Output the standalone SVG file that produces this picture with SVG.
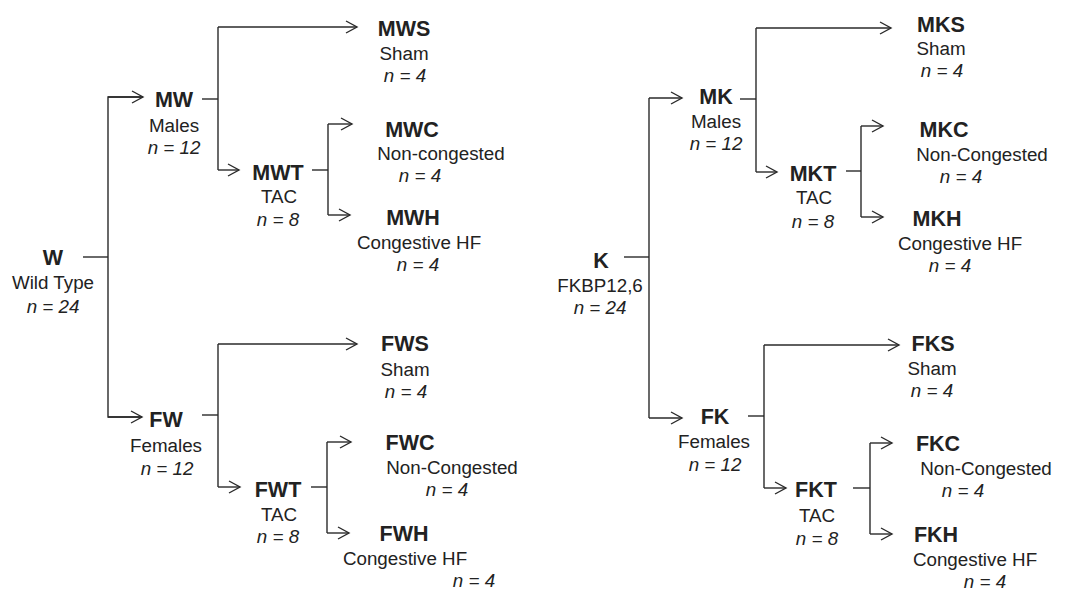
<svg xmlns="http://www.w3.org/2000/svg" width="1070" height="590" viewBox="0 0 1070 590">
<defs>
<marker id="ah" markerUnits="userSpaceOnUse" markerWidth="14" markerHeight="14" refX="11" refY="6" orient="auto" overflow="visible">
<path d="M0,0 L11,6 L0,12" fill="none" stroke="#2a2a2a" stroke-width="1.4"/>
</marker>
<style>
text{font-family:"Liberation Sans",Arial,sans-serif;fill:#222;text-anchor:middle}
.b{font-weight:bold;font-size:21.5px}
.r{font-size:18.8px}
.i{font-size:18.8px;font-style:italic}
.c line,.c path{stroke:#2a2a2a;stroke-width:1.4;fill:none}
.a{marker-end:url(#ah)}
</style>
</defs>
<rect width="1070" height="590" fill="#fff"/>
<g class="c" id="connectors">
<line x1="83" y1="257" x2="108" y2="257"/>
<path d="M143,97 H108 V417 H142" />
<line class="a" x1="108" y1="97" x2="143" y2="97"/>
<line class="a" x1="108" y1="417" x2="142" y2="417"/>
<line x1="202" y1="99" x2="218" y2="99"/>
<line x1="218" y1="27" x2="218" y2="170"/>
<line class="a" x1="218" y1="27" x2="357" y2="27"/>
<line class="a" x1="218" y1="170" x2="239" y2="170"/>
<line x1="312" y1="170" x2="328" y2="170"/>
<line x1="328" y1="124" x2="328" y2="215"/>
<line class="a" x1="328" y1="124" x2="352" y2="124"/>
<line class="a" x1="328" y1="215" x2="350" y2="215"/>
<line x1="202" y1="415" x2="218" y2="415"/>
<line x1="218" y1="344" x2="218" y2="487"/>
<line class="a" x1="218" y1="344" x2="357" y2="344"/>
<line class="a" x1="218" y1="487" x2="240" y2="487"/>
<line x1="311" y1="487" x2="327" y2="487"/>
<line x1="327" y1="442" x2="327" y2="533"/>
<line class="a" x1="327" y1="442" x2="351" y2="442"/>
<line class="a" x1="327" y1="533" x2="349" y2="533"/>
<line x1="624" y1="257" x2="649" y2="257"/>
<line x1="649" y1="98" x2="649" y2="418"/>
<line class="a" x1="649" y1="98" x2="682" y2="98"/>
<line class="a" x1="649" y1="418" x2="682" y2="418"/>
<line x1="740" y1="99" x2="756" y2="99"/>
<line x1="756" y1="28" x2="756" y2="172"/>
<line class="a" x1="756" y1="28" x2="891" y2="28"/>
<line class="a" x1="756" y1="172" x2="777" y2="172"/>
<line x1="846" y1="171" x2="861" y2="171"/>
<line x1="861" y1="126" x2="861" y2="217"/>
<line class="a" x1="861" y1="126" x2="883" y2="126"/>
<line class="a" x1="861" y1="217" x2="883" y2="217"/>
<line x1="748" y1="416" x2="764" y2="416"/>
<line x1="764" y1="345" x2="764" y2="488"/>
<line class="a" x1="764" y1="345" x2="899" y2="345"/>
<line class="a" x1="764" y1="488" x2="786" y2="488"/>
<line x1="853" y1="488" x2="870" y2="488"/>
<line x1="870" y1="443" x2="870" y2="534"/>
<line class="a" x1="870" y1="443" x2="892" y2="443"/>
<line class="a" x1="870" y1="534" x2="892" y2="534"/>
</g>
<g id="W"><text class="b" x="53" y="265">W</text><text class="r" x="53" y="289">Wild Type</text><text class="i" x="53" y="313">n = 24</text></g>
<g id="MW"><text class="b" x="174" y="107">MW</text><text class="r" x="174" y="132">Males</text><text class="i" x="174" y="154">n = 12</text></g>
<g id="MWS"><text class="b" x="404" y="36">MWS</text><text class="r" x="404" y="60">Sham</text><text class="i" x="405" y="82">n = 4</text></g>
<g id="MWT"><text class="b" x="278" y="180">MWT</text><text class="r" x="279" y="203">TAC</text><text class="i" x="278" y="226">n = 8</text></g>
<g id="MWC"><text class="b" x="412" y="137">MWC</text><text class="r" x="441" y="160">Non-congested</text><text class="i" x="420" y="182">n = 4</text></g>
<g id="MWH"><text class="b" x="413" y="225">MWH</text><text class="r" x="419" y="249">Congestive HF</text><text class="i" x="418" y="271">n = 4</text></g>
<g id="FW"><text class="b" x="166" y="427">FW</text><text class="r" x="166" y="452">Females</text><text class="i" x="167" y="475">n = 12</text></g>
<g id="FWS"><text class="b" x="405" y="351">FWS</text><text class="r" x="405" y="376">Sham</text><text class="i" x="406" y="398">n = 4</text></g>
<g id="FWT"><text class="b" x="278" y="497">FWT</text><text class="r" x="279" y="521">TAC</text><text class="i" x="278" y="543">n = 8</text></g>
<g id="FWC"><text class="b" x="410" y="450">FWC</text><text class="r" x="452" y="474">Non-Congested</text><text class="i" x="447" y="496">n = 4</text></g>
<g id="FWH"><text class="b" x="404" y="541">FWH</text><text class="r" x="405" y="565">Congestive HF</text><text class="i" x="474" y="587">n = 4</text></g>
<g id="K"><text class="b" x="601" y="268">K</text><text class="r" x="600" y="292">FKBP12,6</text><text class="i" x="600" y="314">n = 24</text></g>
<g id="MK"><text class="b" x="716" y="104">MK</text><text class="r" x="716" y="128">Males</text><text class="i" x="716" y="150">n = 12</text></g>
<g id="MKS"><text class="b" x="941" y="32">MKS</text><text class="r" x="941" y="55">Sham</text><text class="i" x="942" y="77">n = 4</text></g>
<g id="MKT"><text class="b" x="813" y="181">MKT</text><text class="r" x="814" y="204">TAC</text><text class="i" x="813" y="228">n = 8</text></g>
<g id="MKC"><text class="b" x="944" y="137">MKC</text><text class="r" x="982" y="161">Non-Congested</text><text class="i" x="961" y="183">n = 4</text></g>
<g id="MKH"><text class="b" x="937" y="226">MKH</text><text class="r" x="960" y="250">Congestive HF</text><text class="i" x="950" y="272">n = 4</text></g>
<g id="FK"><text class="b" x="715" y="424">FK</text><text class="r" x="714" y="448">Females</text><text class="i" x="715" y="471">n = 12</text></g>
<g id="FKS"><text class="b" x="933" y="351">FKS</text><text class="r" x="932" y="375">Sham</text><text class="i" x="932" y="397">n = 4</text></g>
<g id="FKT"><text class="b" x="816" y="497">FKT</text><text class="r" x="817" y="522">TAC</text><text class="i" x="817" y="545">n = 8</text></g>
<g id="FKC"><text class="b" x="938" y="451">FKC</text><text class="r" x="986" y="475">Non-Congested</text><text class="i" x="963" y="497">n = 4</text></g>
<g id="FKH"><text class="b" x="936" y="542">FKH</text><text class="r" x="975" y="566">Congestive HF</text><text class="i" x="985" y="588">n = 4</text></g>
</svg>
